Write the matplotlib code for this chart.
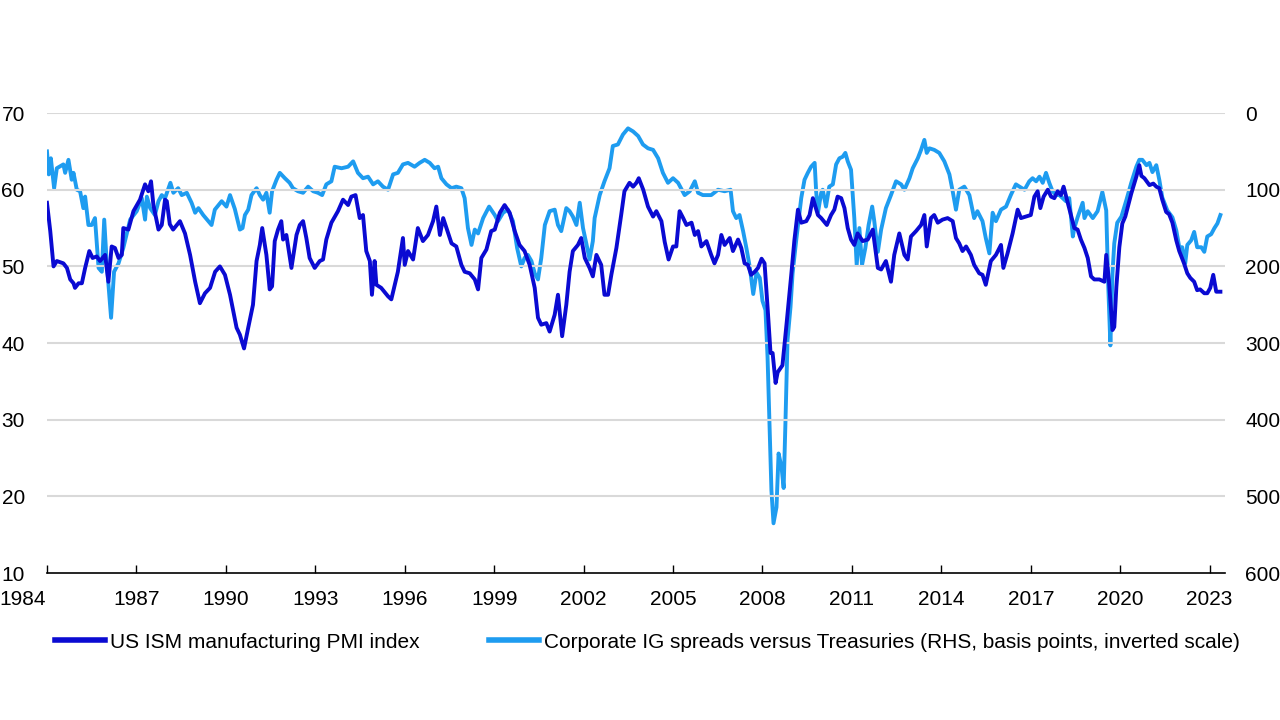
"""US ISM manufacturing PMI vs corporate IG spreads (inverted RHS)."""

import matplotlib
matplotlib.use("Agg")
import matplotlib.pyplot as plt
import matplotlib.transforms as mtransforms

plt.rcParams["font.family"] = ["Liberation Sans", "DejaVu Sans"]

PMI_COLOR = "#0a0ad2"
IG_COLOR = "#1e9cf0"
GRID_COLOR = "#d9d9d9"

# decimal years
pmi_years = [
    1984.00, 1984.11, 1984.22, 1984.33, 1984.55, 1984.67, 1984.78, 1984.89, 1984.94, 1985.06,
    1985.17, 1985.28, 1985.42, 1985.53, 1985.67, 1985.78, 1985.95, 1986.06, 1986.17, 1986.28,
    1986.40, 1986.51, 1986.56, 1986.73, 1986.90, 1987.12, 1987.29, 1987.40, 1987.49, 1987.57,
    1987.74, 1987.85, 1987.96, 1988.02, 1988.12, 1988.23, 1988.46, 1988.63, 1988.80, 1988.97,
    1989.13, 1989.30, 1989.47, 1989.64, 1989.80, 1989.97, 1990.14, 1990.36, 1990.47, 1990.61,
    1990.75, 1990.91, 1991.03, 1991.14, 1991.22, 1991.36, 1991.47, 1991.55, 1991.64, 1991.75,
    1991.86, 1991.92, 1992.03, 1992.20, 1992.37, 1992.48, 1992.59, 1992.70, 1992.81, 1992.98,
    1993.15, 1993.26, 1993.37, 1993.54, 1993.76, 1993.93, 1994.10, 1994.21, 1994.35, 1994.49,
    1994.60, 1994.71, 1994.83, 1994.90, 1994.99, 1995.05, 1995.21, 1995.44, 1995.55, 1995.77,
    1995.94, 1996.00, 1996.11, 1996.28, 1996.44, 1996.61, 1996.78, 1996.95, 1997.06, 1997.18,
    1997.29, 1997.40, 1997.57, 1997.73, 1997.90, 1998.01, 1998.18, 1998.35, 1998.46, 1998.57,
    1998.74, 1998.90, 1999.02, 1999.19, 1999.35, 1999.52, 1999.69, 1999.85, 2000.02, 2000.19,
    2000.36, 2000.47, 2000.58, 2000.75, 2000.86, 2001.03, 2001.14, 2001.28, 2001.42, 2001.53,
    2001.64, 2001.81, 2001.92, 2002.04, 2002.20, 2002.31, 2002.43, 2002.59, 2002.70, 2002.82,
    2002.93, 2003.10, 2003.26, 2003.37, 2003.54, 2003.66, 2003.77, 2003.85, 2004.00, 2004.16,
    2004.33, 2004.44, 2004.61, 2004.72, 2004.85, 2005.00, 2005.11, 2005.22, 2005.34, 2005.45,
    2005.62, 2005.73, 2005.84, 2005.95, 2006.12, 2006.28, 2006.39, 2006.51, 2006.62, 2006.73,
    2006.90, 2007.01, 2007.18, 2007.29, 2007.40, 2007.51, 2007.62, 2007.74, 2007.85, 2007.97,
    2008.07, 2008.17, 2008.27, 2008.34, 2008.44, 2008.51, 2008.67, 2008.81, 2008.97, 2009.07,
    2009.19, 2009.30, 2009.47, 2009.58, 2009.69, 2009.86, 2009.97, 2010.16, 2010.30, 2010.41,
    2010.52, 2010.64, 2010.75, 2010.86, 2010.97, 2011.08, 2011.19, 2011.36, 2011.53, 2011.70,
    2011.87, 2011.98, 2012.14, 2012.31, 2012.42, 2012.59, 2012.76, 2012.87, 2012.98, 2013.15,
    2013.32, 2013.43, 2013.51, 2013.65, 2013.76, 2013.88, 2014.04, 2014.21, 2014.38, 2014.49,
    2014.60, 2014.71, 2014.83, 2014.99, 2015.10, 2015.27, 2015.38, 2015.49, 2015.66, 2015.83,
    2016.00, 2016.08, 2016.22, 2016.39, 2016.56, 2016.67, 2016.84, 2017.00, 2017.12, 2017.23,
    2017.32, 2017.43, 2017.57, 2017.68, 2017.79, 2017.90, 2018.01, 2018.10, 2018.24, 2018.35,
    2018.46, 2018.57, 2018.68, 2018.80, 2018.91, 2019.02, 2019.13, 2019.30, 2019.47, 2019.53,
    2019.62, 2019.74, 2019.80, 2019.87, 2019.97, 2020.07, 2020.17, 2020.37, 2020.54, 2020.64,
    2020.71, 2020.81, 2020.98, 2021.11, 2021.21, 2021.31, 2021.41, 2021.54, 2021.64, 2021.75,
    2021.88, 2021.98, 2022.14, 2022.25, 2022.35, 2022.48, 2022.58, 2022.68, 2022.82, 2022.92,
    2023.02, 2023.12, 2023.22, 2023.36,
]
pmi_values = [
    58.3, 54.6, 50.0, 50.7, 50.4, 49.8, 48.3, 47.8, 47.2, 47.8,
    47.8, 49.8, 52.0, 51.1, 51.3, 50.7, 51.5, 48.0, 52.6, 52.4,
    51.1, 51.5, 55.0, 54.8, 57.2, 58.7, 60.7, 59.8, 61.1, 58.0,
    54.8, 55.4, 58.7, 58.5, 55.5, 54.8, 55.9, 54.3, 51.5, 48.0,
    45.2, 46.5, 47.2, 49.3, 50.0, 48.9, 46.3, 42.0, 41.1, 39.3,
    42.0, 45.0, 50.7, 52.8, 55.0, 51.5, 47.0, 47.4, 53.3, 54.8,
    55.9, 53.5, 54.1, 49.8, 54.1, 55.4, 55.9, 53.7, 51.1, 49.8,
    50.7, 50.9, 53.5, 55.7, 57.2, 58.7, 58.0, 59.1, 59.3, 56.3,
    56.7, 52.0, 50.7, 46.3, 50.7, 47.6, 47.2, 46.1, 45.7, 49.3,
    53.7, 50.2, 52.0, 50.9, 55.0, 53.3, 54.1, 55.9, 57.8, 54.1,
    56.3, 55.0, 53.0, 52.6, 50.2, 49.3, 49.1, 48.3, 47.0, 51.1,
    52.2, 54.6, 54.8, 57.0, 58.0, 57.0, 54.6, 52.8, 52.0, 50.2,
    47.2, 43.3, 42.4, 42.6, 41.5, 43.7, 46.3, 40.9, 45.0, 49.3,
    52.0, 52.8, 53.7, 51.1, 49.8, 48.7, 51.5, 50.2, 46.3, 46.3,
    48.9, 52.4, 56.7, 59.8, 60.9, 60.4, 60.9, 61.5, 60.0, 57.8,
    56.5, 57.2, 55.9, 53.2, 50.9, 52.6, 52.6, 57.2, 56.3, 55.4,
    55.7, 54.1, 54.6, 52.6, 53.3, 51.5, 50.4, 51.5, 54.1, 52.8,
    53.7, 52.0, 53.5, 52.4, 50.4, 50.2, 48.9, 49.3, 49.8, 51.0,
    50.4, 44.7, 38.7, 38.7, 34.8, 36.2, 37.1, 42.6, 49.1, 53.4,
    57.4, 55.7, 55.9, 56.7, 58.9, 56.7, 56.3, 55.4, 56.7, 57.4,
    59.1, 58.9, 57.6, 55.0, 53.5, 52.8, 54.3, 53.3, 53.5, 54.8,
    49.8, 49.6, 50.7, 48.0, 51.5, 54.3, 51.5, 50.9, 53.9, 54.6,
    55.4, 56.7, 52.6, 56.3, 56.7, 55.7, 56.1, 56.3, 55.9, 53.7,
    53.0, 52.0, 52.6, 51.5, 50.2, 49.1, 48.9, 47.6, 50.7, 51.5,
    52.8, 49.8, 51.7, 54.3, 57.4, 56.3, 56.5, 56.7, 59.1, 59.8,
    57.6, 59.1, 60.0, 59.1, 58.9, 59.8, 59.3, 60.4, 58.3, 56.7,
    55.0, 54.8, 53.5, 52.4, 51.1, 48.7, 48.3, 48.3, 48.0, 51.5,
    48.2, 41.7, 42.1, 47.3, 52.5, 55.6, 56.5, 59.5, 61.7, 63.2,
    61.8, 61.5, 60.6, 60.8, 60.4, 60.2, 58.7, 57.1, 56.8, 55.7,
    53.4, 52.0, 50.4, 49.1, 48.5, 48.0, 46.9, 47.0, 46.5, 46.5,
    47.2, 48.9, 46.7, 46.7,
]

ig_years = [
    1984.00, 1984.06, 1984.13, 1984.24, 1984.33, 1984.55, 1984.61, 1984.72, 1984.83, 1984.89,
    1985.00, 1985.11, 1985.22, 1985.28, 1985.39, 1985.50, 1985.61, 1985.73, 1985.84, 1985.92,
    1986.00, 1986.15, 1986.25, 1986.40, 1986.56, 1986.79, 1987.01, 1987.18, 1987.29, 1987.35,
    1987.46, 1987.62, 1987.74, 1987.85, 1987.96, 1988.14, 1988.24, 1988.40, 1988.52, 1988.69,
    1988.85, 1988.97, 1989.08, 1989.24, 1989.41, 1989.52, 1989.63, 1989.86, 1990.02, 1990.14,
    1990.30, 1990.47, 1990.56, 1990.64, 1990.75, 1990.86, 1991.03, 1991.14, 1991.25, 1991.36,
    1991.47, 1991.55, 1991.70, 1991.81, 1991.98, 1992.14, 1992.25, 1992.42, 1992.59, 1992.76,
    1992.93, 1993.09, 1993.23, 1993.37, 1993.54, 1993.65, 1993.88, 1994.10, 1994.27, 1994.43,
    1994.60, 1994.77, 1994.94, 1995.10, 1995.27, 1995.44, 1995.61, 1995.77, 1995.94, 1996.11,
    1996.33, 1996.50, 1996.67, 1996.84, 1997.00, 1997.12, 1997.23, 1997.40, 1997.57, 1997.73,
    1997.90, 1998.01, 1998.12, 1998.24, 1998.35, 1998.46, 1998.63, 1998.83, 1999.02, 1999.13,
    1999.30, 1999.46, 1999.63, 1999.77, 1999.91, 2000.02, 2000.13, 2000.25, 2000.36, 2000.47,
    2000.58, 2000.70, 2000.86, 2001.03, 2001.14, 2001.25, 2001.42, 2001.53, 2001.64, 2001.76,
    2001.87, 2001.98, 2002.09, 2002.20, 2002.31, 2002.37, 2002.54, 2002.70, 2002.87, 2002.98,
    2003.15, 2003.32, 2003.49, 2003.66, 2003.83, 2003.99, 2004.16, 2004.33, 2004.50, 2004.66,
    2004.83, 2005.00, 2005.17, 2005.39, 2005.56, 2005.73, 2005.84, 2006.00, 2006.28, 2006.51,
    2006.73, 2006.93, 2007.01, 2007.12, 2007.23, 2007.35, 2007.46, 2007.57, 2007.69, 2007.80,
    2007.91, 2008.00, 2008.10, 2008.17, 2008.24, 2008.30, 2008.37, 2008.47, 2008.54, 2008.64,
    2008.71, 2008.77, 2008.84, 2008.94, 2009.01, 2009.14, 2009.30, 2009.41, 2009.52, 2009.63,
    2009.75, 2009.80, 2009.86, 2009.97, 2010.02, 2010.13, 2010.24, 2010.36, 2010.47, 2010.58,
    2010.69, 2010.78, 2010.86, 2010.97, 2011.08, 2011.16, 2011.25, 2011.34, 2011.45, 2011.56,
    2011.68, 2011.75, 2011.87, 2011.98, 2012.14, 2012.31, 2012.48, 2012.65, 2012.76, 2012.93,
    2013.04, 2013.21, 2013.32, 2013.43, 2013.51, 2013.60, 2013.76, 2013.93, 2014.10, 2014.27,
    2014.38, 2014.49, 2014.60, 2014.77, 2014.94, 2015.10, 2015.21, 2015.38, 2015.49, 2015.61,
    2015.72, 2015.83, 2016.00, 2016.17, 2016.33, 2016.50, 2016.62, 2016.79, 2016.95, 2017.06,
    2017.18, 2017.29, 2017.40, 2017.51, 2017.62, 2017.73, 2017.85, 2017.96, 2018.07, 2018.18,
    2018.29, 2018.41, 2018.46, 2018.57, 2018.74, 2018.80, 2018.91, 2019.08, 2019.24, 2019.40,
    2019.53, 2019.60, 2019.67, 2019.74, 2019.80, 2019.90, 2020.04, 2020.21, 2020.37, 2020.54,
    2020.64, 2020.74, 2020.88, 2020.98, 2021.08, 2021.21, 2021.31, 2021.41, 2021.58, 2021.75,
    2021.88, 2021.98, 2022.08, 2022.18, 2022.25, 2022.38, 2022.48, 2022.58, 2022.72, 2022.82,
    2022.92, 2023.05, 2023.16, 2023.26, 2023.36,
]
ig_bps = [
    50, 80, 59, 98, 72, 67, 78, 61, 87, 78,
    100, 102, 124, 109, 146, 146, 137, 202, 207, 139,
    193, 267, 207, 196, 176, 139, 128, 111, 139, 109,
    124, 133, 115, 107, 111, 91, 104, 98, 107, 104,
    117, 130, 124, 133, 141, 146, 126, 115, 122, 107,
    125, 152, 150, 133, 126, 107, 98, 107, 113, 104,
    130, 102, 87, 78, 85, 91, 98, 102, 104, 96,
    102, 104, 107, 93, 89, 70, 72, 70, 63, 78,
    85, 83, 93, 89, 96, 100, 80, 78, 67, 65,
    70, 65, 61, 65, 72, 70, 85, 93, 98, 96,
    98, 111, 150, 172, 152, 157, 137, 122, 133, 141,
    130, 126, 141, 176, 200, 189, 185, 193, 209, 217,
    189, 146, 128, 126, 146, 154, 124, 128, 135, 146,
    117, 150, 170, 191, 167, 137, 107, 89, 72, 43,
    41, 28, 20, 24, 30, 41, 46, 48, 59, 78,
    91, 85, 91, 107, 102, 89, 104, 107, 107, 100,
    102, 100, 128, 137, 133, 154, 176, 200, 236, 208,
    215, 245, 257, 318, 410, 492, 535, 514, 444, 462,
    489, 404, 296, 253, 209, 163, 111, 87, 78, 70,
    65, 102, 130, 104, 100, 122, 96, 93, 67, 59,
    57, 52, 63, 74, 137, 198, 150, 198, 176, 146,
    122, 141, 181, 152, 124, 107, 89, 93, 100, 85,
    72, 59, 48, 35, 52, 46, 48, 52, 63, 80,
    102, 126, 100, 96, 107, 137, 128, 141, 163, 183,
    130, 141, 126, 122, 107, 93, 96, 100, 89, 85,
    89, 83, 91, 78, 91, 102, 107, 107, 111, 115,
    111, 161, 150, 136, 117, 137, 128, 137, 128, 103,
    127, 227, 303, 209, 170, 143, 135, 113, 91, 70,
    61, 61, 68, 65, 77, 68, 87, 110, 127, 136,
    153, 175, 175, 196, 172, 166, 155, 175, 175, 181,
    161, 158, 150, 144, 133,
]

year_ticks = list(range(1984, 2024, 3))
left_ticks = [10, 20, 30, 40, 50, 60, 70]
right_ticks = [0, 100, 200, 300, 400, 500, 600]

FS = 15

fig = plt.figure(figsize=(12.8, 7.2), dpi=100)
ax = fig.add_axes([0.0367, 0.204, 0.920, 0.639])
ax2 = ax.twinx()

ax.set_xlim(1984, 2023.5)
ax.set_ylim(10, 70)
ax2.set_ylim(600, 0)

for v in left_ticks[1:]:
    ax.axhline(v, color=GRID_COLOR, lw=1.5, zorder=0)

ig_line, = ax2.plot(ig_years, ig_bps, color=IG_COLOR, lw=2.8, solid_joinstyle="round")
pmi_line, = ax.plot(pmi_years, pmi_values, color=PMI_COLOR, lw=2.8, solid_joinstyle="round")
# PMI drawn over the spread line
ax.set_zorder(ax2.get_zorder() + 1)
ax.patch.set_visible(False)

for a in (ax, ax2):
    for side in ("top", "left", "right", "bottom"):
        a.spines[side].set_visible(False)
ax.spines["bottom"].set_visible(True)
ax.spines["bottom"].set_color("black")
ax.spines["bottom"].set_linewidth(1.2)

ax.set_xticks(year_ticks, [str(y) for y in year_ticks])
ax.tick_params(axis="x", direction="in", length=6, width=1.0, pad=12, labelsize=FS)
ax.set_yticks(left_ticks)
ax.tick_params(axis="y", length=0, pad=16, labelsize=FS)
ax2.set_yticks(right_ticks)
ax2.tick_params(axis="y", length=0, pad=15, labelsize=FS)

# first year label sits to the left of its tick in the original
first = ax.get_xticklabels()[0]
first.set_transform(first.get_transform()
                    + mtransforms.ScaledTranslation(-0.24, 0, fig.dpi_scale_trans))

fig.legend(
    [pmi_line, ig_line],
    ["US ISM manufacturing PMI index",
     "Corporate IG spreads versus Treasuries (RHS, basis points, inverted scale)"],
    loc="center left", bbox_to_anchor=(0.043, 0.108), ncol=2, frameon=False,
    fontsize=FS, handlelength=2.4, handletextpad=0.25, columnspacing=3.3,
    borderpad=0, borderaxespad=0,
)
for h in fig.legends[0].legend_handles:
    h.set_linewidth(4)

fig.savefig("out.png", dpi=100)
